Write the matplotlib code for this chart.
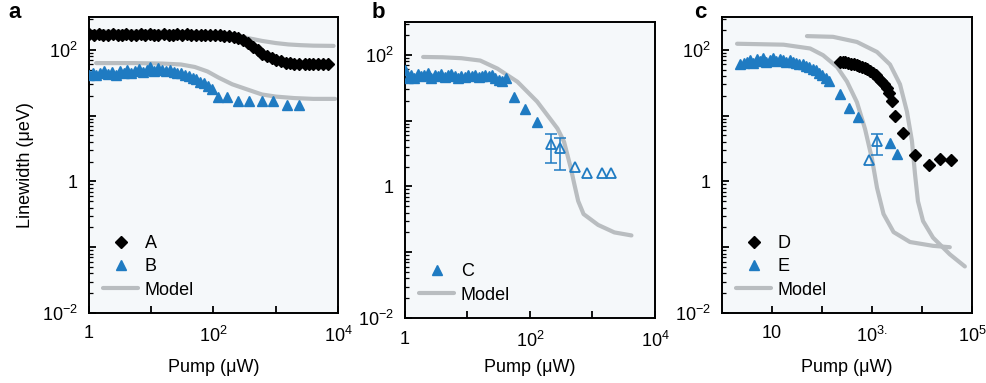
import matplotlib
matplotlib.use("Agg")
import matplotlib.pyplot as plt
from matplotlib.ticker import FixedLocator, FixedFormatter, NullLocator, LogLocator, NullFormatter

plt.rcParams['font.family'] = ['Liberation Sans', 'DejaVu Sans']
plt.rcParams['mathtext.fontset'] = 'custom'
plt.rcParams['mathtext.rm'] = 'Liberation Sans'
plt.rcParams['mathtext.it'] = 'Liberation Sans:italic'
plt.rcParams['mathtext.bf'] = 'Liberation Sans:bold'

BLUE = '#1f7bc2'
GRAY = '#b9bdc0'
BG = '#f5f8fa'

# ---------------- Panel a ----------------
a_A_x = [1, 1.2, 1.45, 1.7, 2, 2.4, 2.9, 3.4, 4, 4.8, 5.7, 6.8, 8, 9.5, 11, 13, 16, 19, 22, 26,
         31, 37, 44, 52, 62, 74, 88, 105, 125, 150, 180, 210, 250, 300, 360, 430, 510, 610, 720,
         860, 1000, 1200, 1450, 1700, 2000, 2400, 2900, 3400, 4000, 4800, 5700, 6800]
a_A_y = [172, 168, 176, 170, 166, 174, 171, 167, 175, 170, 166, 173, 170, 176, 171, 167, 174, 170,
         166, 172, 169, 173, 168, 170, 167, 169, 166, 168, 166, 165, 162, 157, 150, 140, 126, 112,
         99, 88, 80, 74, 70, 67, 64, 63, 62, 61, 62, 60, 62, 61, 62, 61]
a_B_x = [1, 1.15, 1.3, 1.5, 1.75, 2, 2.3, 2.7, 3.1, 3.6, 4.1, 4.8, 5.5, 6.3, 7.3, 8.4, 9.7, 11,
         13, 15, 17, 20, 23, 26, 30, 35, 40, 46, 53, 61, 70, 81, 93,
         120, 163, 252, 365, 600, 915, 1510, 2330]
a_B_y = [42, 45, 41, 44, 47, 43, 46, 42, 48, 45, 50, 44, 47, 52, 46, 50, 55, 48, 53, 50, 47, 49,
         46, 44, 45, 42, 40, 38, 36, 33, 31, 28, 25,
         19, 19, 17, 17, 17, 17, 14.7, 14.7]
a_modelA_x = [1.3, 5, 15, 40, 80, 150, 250, 400, 600, 1000, 1600, 2500, 4000, 8500]
a_modelA_y = [190, 190, 189, 186, 182, 175, 162, 148, 137, 127, 121, 118, 116, 115]
a_modelB_x = [1.3, 5, 15, 30, 50, 80, 120, 200, 350, 600, 1000, 2000, 4000, 9000]
a_modelB_y = [63, 63, 62, 60, 55, 47, 38, 30, 25, 21, 19.5, 18.5, 18, 18]

# ---------------- Panel b ----------------
b_C_x = [1, 1.1, 1.25, 1.4, 1.6, 1.8, 2.05, 2.3, 2.6, 3, 3.4, 3.8, 4.3, 4.9, 5.5, 6.3, 7.1, 8,
         9.1, 10.3, 11.7, 13.2, 15, 17, 19.3, 21.9, 24.8, 28, 31.7, 36, 40.8,
         55, 82, 128]
b_C_y = [58, 45, 50, 44, 52, 47, 49, 53, 45, 50, 48, 52, 46, 49, 51, 47, 45, 48, 46, 49, 47, 50,
         46, 48, 49, 47, 50, 44, 42, 40, 44,
         23, 15, 9.4]
b_Copen_x = [215, 300, 525, 810, 1400, 2000]
b_Copen_y = [4.4, 3.8, 1.95, 1.6, 1.6, 1.6]
b_err_x = [215, 300]
b_err_y = [4.4, 3.8]
b_err_lo = [2.3, 1.8]
b_err_hi = [6.3, 5.5]
b_model_x = [1.95, 4, 8, 16, 30, 63, 130, 275, 350, 450, 510, 590, 720, 1230, 2240, 4200]
b_model_y = [93, 92, 89, 82, 62, 39, 19.5, 7.6, 4.8, 1.9, 1.1, 0.6, 0.38, 0.26, 0.2, 0.18]

# ---------------- Panel c ----------------
c_D_x = [230, 260, 295, 335, 380, 430, 490, 555, 630, 715, 810, 920, 1040, 1180, 1340, 1520,
         1720, 1950, 2200, 2500,
         2880, 4170, 7240, 13800, 22900, 38000]
c_D_y = [66, 66, 65, 63, 62, 60, 59, 57, 55, 53, 51, 48, 45, 41, 38, 34, 30, 26, 22, 17,
         10, 5.4, 2.5, 1.8, 2.2, 2.1]
c_E_x = [2.3, 2.7, 3.1, 3.6, 4.2, 4.9, 5.7, 6.6, 7.7, 9, 10.5, 12.2, 14.2, 16.5, 19.2, 22.4, 26,
         30, 35, 41, 48, 56, 65, 75, 88, 102, 119, 138,
         230, 350, 525, 2300, 3200]
c_E_y = [60, 63, 66, 70, 64, 72, 68, 75, 66, 71, 76, 68, 73, 70, 66, 69, 65, 63, 62, 60, 57, 55,
         52, 49, 45, 41, 38, 34,
         21, 13, 9.6, 3.9, 2.6]
c_Eopen_x = [870, 1260]
c_Eopen_y = [2.1, 4.1]
c_err_x = [1260]
c_err_y = [4.1]
c_err_lo = [2.5]
c_err_hi = [5.2]
c_modelE_x = [2, 17, 58, 105, 200, 316, 500, 725, 1000, 1260, 1700, 2700, 5750, 16600, 36000]
c_modelE_y = [124, 120, 105, 83, 55, 33, 16, 6.3, 2.2, 0.8, 0.32, 0.17, 0.12, 0.105, 0.1]
c_modelD_x = [50, 166, 500, 1260, 2290, 3630, 5000, 6300, 7240, 8300, 10500, 16600, 36000, 72000]
c_modelD_y = [162, 158, 132, 93, 60, 30, 11.5, 4.1, 1.3, 0.5, 0.25, 0.14, 0.078, 0.051]

xt_ab = [1, 10, 100, 1000, 10000]
xl_ab = ['1', '', r'$10^{2}$', '', r'$10^{4}$']
xt_c = [10, 100, 1000, 10000, 100000]
xl_c = ['10', '', r'$10^{3.}$', '', r'$10^{5}$']
yt = [1e-2, 1e-1, 1, 10, 100]
yl = [r'$10^{-2}$', '', '1', '', r'$10^{2}$']

W, H = 987, 383
fig = plt.figure(figsize=(W / 100, H / 100), dpi=100)

def px_axes(l, r, t, b):
    return fig.add_axes([l / W, 1 - b / H, (r - l) / W, (b - t) / H])

axa = px_axes(89, 338, 17, 313)
axb = px_axes(405, 655, 22, 318)
axc = px_axes(722, 972, 17, 313)

FS = 13

def style(ax, xlim, xt, xl, xlabelpad=10):
    ax.set_xscale('log')
    ax.set_yscale('log')
    ax.set_xlim(*xlim)
    ax.set_ylim(1e-2, 10 ** 2.5)
    ax.set_facecolor(BG)
    ax.xaxis.set_major_locator(FixedLocator(xt))
    ax.xaxis.set_major_formatter(FixedFormatter(xl))
    ax.xaxis.set_minor_locator(NullLocator())
    ax.yaxis.set_major_locator(FixedLocator(yt))
    ax.yaxis.set_major_formatter(FixedFormatter(yl))
    ax.yaxis.set_minor_locator(LogLocator(base=10, subs=range(2, 10)))
    ax.yaxis.set_minor_formatter(NullFormatter())
    ax.tick_params(which='major', direction='in', length=5, width=1.3, labelsize=FS, pad=8)
    ax.tick_params(which='minor', direction='in', length=3, width=0.9)
    ax.tick_params(axis='x', pad=9)
    for s in ax.spines.values():
        s.set_linewidth(1.4)
    ax.set_xlabel('Pump (μW)', fontsize=FS, labelpad=xlabelpad)

lw_m = 3.0
mk_d = dict(marker='D', ms=6.5, color='black', ls='none')
mk_t = dict(marker='^', ms=7.5, color=BLUE, ls='none')

# panel a
style(axa, (1, 1e4), xt_ab, xl_ab)
mA, = axa.plot(a_A_x, a_A_y, **mk_d, label='A', zorder=3)
mB, = axa.plot(a_B_x, a_B_y, **mk_t, label='B', zorder=3)
lm, = axa.plot(a_modelA_x, a_modelA_y, color=GRAY, lw=lw_m, solid_capstyle='round', label='Model', zorder=2)
axa.plot(a_modelB_x, a_modelB_y, color=GRAY, lw=lw_m, solid_capstyle='round', zorder=2)
axa.set_ylabel('Linewidth (μeV)', fontsize=FS, labelpad=6)
axa.legend(handles=[mA, mB, lm], loc='lower left', frameon=False, fontsize=FS,
           handlelength=1.9, handletextpad=0.4, labelspacing=0.35, borderaxespad=0.4)

# panel b
style(axb, (1, 1e4), xt_ab, xl_ab, xlabelpad=6)
lm_b, = axb.plot(b_model_x, b_model_y, color=GRAY, lw=lw_m, solid_capstyle='round', label='Model', zorder=2)
mC, = axb.plot(b_C_x, b_C_y, **mk_t, label='C', zorder=3)
axb.plot(b_Copen_x, b_Copen_y, marker='^', ms=7.5, mfc='none', mec=BLUE, mew=1.3, ls='none', zorder=3)
axb.errorbar(b_err_x, b_err_y,
             yerr=[[y - lo for y, lo in zip(b_err_y, b_err_lo)], [hi - y for y, hi in zip(b_err_y, b_err_hi)]],
             fmt='none', ecolor=BLUE, elinewidth=1.1, capsize=4, capthick=1.1, zorder=2.5)
axb.legend(handles=[mC, lm_b], loc='lower left', frameon=False, fontsize=FS,
           handlelength=1.9, handletextpad=0.4, labelspacing=0.35, borderaxespad=0.4)

# panel c
style(axc, (1, 1e5), xt_c, xl_c)
lm_c, = axc.plot(c_modelE_x, c_modelE_y, color=GRAY, lw=lw_m, solid_capstyle='round', label='Model', zorder=2)
axc.plot(c_modelD_x, c_modelD_y, color=GRAY, lw=lw_m, solid_capstyle='round', zorder=2)
mD, = axc.plot(c_D_x, c_D_y, **mk_d, label='D', zorder=3)
mE, = axc.plot(c_E_x, c_E_y, **mk_t, label='E', zorder=3)
axc.plot(c_Eopen_x, c_Eopen_y, marker='^', ms=7.5, mfc='none', mec=BLUE, mew=1.3, ls='none', zorder=3)
axc.errorbar(c_err_x, c_err_y,
             yerr=[[y - lo for y, lo in zip(c_err_y, c_err_lo)], [hi - y for y, hi in zip(c_err_y, c_err_hi)]],
             fmt='none', ecolor=BLUE, elinewidth=1.1, capsize=4, capthick=1.1, zorder=2.5)
axc.legend(handles=[mD, mE, lm_c], loc='lower left', frameon=False, fontsize=FS,
           handlelength=1.9, handletextpad=0.4, labelspacing=0.35, borderaxespad=0.4)

for lab, x, y in [('a', 8, 18), ('b', 372, 18), ('c', 694, 18)]:
    fig.text(x / W, 1 - y / H, lab, fontsize=16, fontweight='bold', ha='left', va='baseline')

fig.savefig('out.png', dpi=100)
